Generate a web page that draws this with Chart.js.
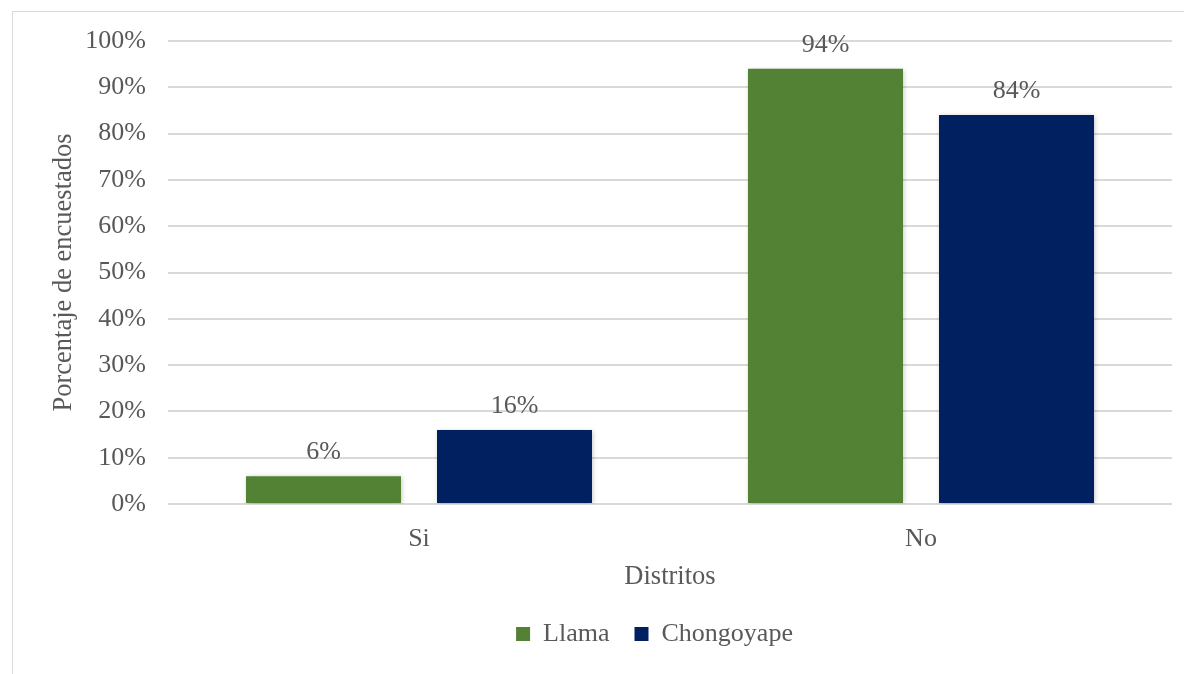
<!DOCTYPE html>
<html>
<head>
<meta charset="utf-8">
<script src="https://cdn.jsdelivr.net/npm/chart.js@4"></script>
<style>
  html, body { margin: 0; padding: 0; background: #fff; overflow: hidden; }
  #marco {
    position: absolute; left: 12px; top: 11px;
    width: 1172px; height: 663px;
    border-top: 1px solid #d9d9d9; border-left: 1px solid #d9d9d9;
  }
</style>
</head>
<body>
<div id="marco"><canvas id="grafico" width="1171" height="662"></canvas></div>
<script>
const categorias = ["Si", "No"];
const llama = [6, 94];
const chongoyape = [16, 84];
const ticksY = [0, 10, 20, 30, 40, 50, 60, 70, 80, 90, 100];

const fuente = "'Liberation Serif', 'Times New Roman', serif";
const gris = "#595959";

// etiquetas de porcentaje encima de cada barra
const etiquetas = {
  id: "etiquetas",
  afterDatasetsDraw(chart) {
    const ctx = chart.ctx;
    ctx.save();
    ctx.font = "26px " + fuente;
    ctx.fillStyle = gris;
    ctx.textAlign = "center";
    ctx.textBaseline = "alphabetic";
    chart.data.datasets.forEach((ds, i) => {
      chart.getDatasetMeta(i).data.forEach((bar, j) => {
        ctx.fillText(ds.data[j] + "%", bar.x, bar.y - 17);
      });
    });
    ctx.restore();
  }
};

// sombra suave de las barras
const sombra = {
  id: "sombra",
  beforeDatasetsDraw(chart) {
    const ctx = chart.ctx;
    ctx.save();
    ctx.shadowColor = "rgba(0,0,0,0.25)";
    ctx.shadowBlur = 5;
    ctx.shadowOffsetX = 1;
    ctx.shadowOffsetY = 1;
  },
  afterDatasetsDraw(chart) {
    chart.ctx.restore();
  }
};

// la leyenda va un poco corrida a la derecha
const moverLeyenda = {
  id: "moverLeyenda",
  afterLayout(chart) {
    chart.legend.left += 62;
    chart.legend.right += 62;
  }
};

new Chart(document.getElementById("grafico"), {
  type: "bar",
  data: {
    labels: categorias,
    datasets: [
      { label: "Llama", data: llama, backgroundColor: "#548235" },
      { label: "Chongoyape", data: chongoyape, backgroundColor: "#002060" }
    ]
  },
  options: {
    responsive: false,
    animation: false,
    events: [],
    categoryPercentage: 0.761,
    barPercentage: 0.8115,
    layout: { padding: { top: 29, right: 12, left: 0, bottom: 17 } },
    scales: {
      x: {
        afterFit(scale) { scale.height = 92; },
        grid: { display: false },
        border: { display: false },
        ticks: { color: gris, font: { family: fuente, size: 26 }, padding: 12 },
        title: {
          display: true, text: "Distritos", color: gris,
          font: { family: fuente, size: 26.5 }, padding: { top: 0, bottom: 3 }
        }
      },
      y: {
        min: 0, max: 100,
        afterBuildTicks(scale) { scale.ticks = ticksY.map(v => ({ value: v })); },
        afterFit(scale) {
          scale.width = 155;
          scale.paddingTop = 0;
          scale.paddingBottom = 0;
        },
        grid: { color: "#d9d9d9", lineWidth: 2, drawTicks: false },
        border: { display: false },
        ticks: {
          color: gris, font: { family: fuente, size: 26 }, padding: 22,
          callback: v => v + "%"
        },
        title: {
          display: true, text: "Porcentaje de encuestados", color: gris,
          font: { family: fuente, size: 26.5 }, padding: { top: 35, bottom: 0 }
        }
      }
    },
    plugins: {
      legend: {
        position: "bottom",
        labels: {
          color: gris, font: { family: fuente, size: 26 },
          boxWidth: 14, boxHeight: 14, padding: 25
        }
      },
      tooltip: { enabled: false }
    }
  },
  plugins: [sombra, etiquetas, moverLeyenda]
});
</script>
</body>
</html>
